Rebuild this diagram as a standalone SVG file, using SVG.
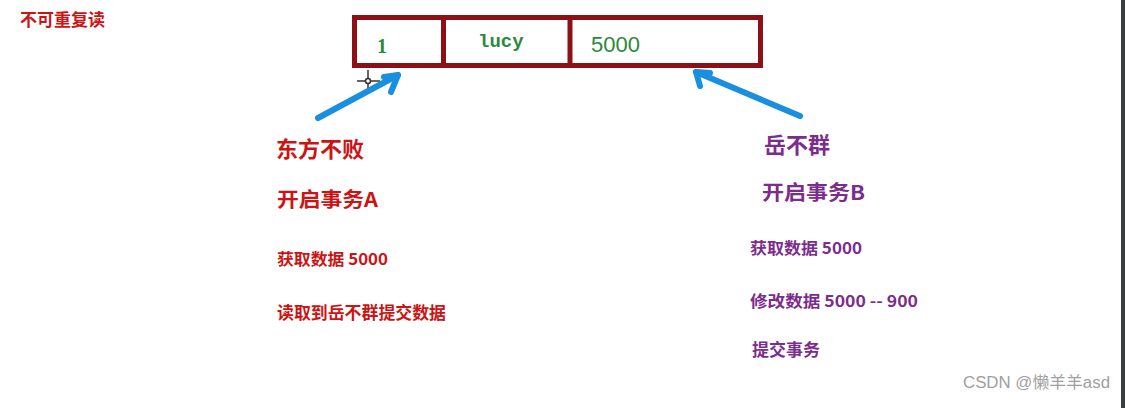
<svg xmlns="http://www.w3.org/2000/svg" width="1125" height="408" viewBox="0 0 1125 408">
<style>
.red{fill:#cc1414;font-family:"Noto Sans CJK SC","Liberation Sans",sans-serif;font-weight:bold}
.pur{fill:#7b2c8c;font-family:"Noto Sans CJK SC","Liberation Sans",sans-serif;font-weight:bold}
.grn{fill:#2a8a3c}
.arrow{fill:none;stroke:#1a8fe0;stroke-width:6;stroke-linecap:round;stroke-linejoin:round}
</style>
<rect width="1125" height="408" fill="#ffffff"/>
<rect x="1121" y="0" width="4" height="408" fill="#3a3d40"/>
<text x="20" y="26" class="red" font-size="17">不可重复读</text>
<g id="table">
<rect x="354.5" y="17.5" width="406" height="48" fill="#ffffff" stroke="#8c1016" stroke-width="5"/>
<line x1="443.5" y1="17" x2="443.5" y2="66" stroke="#8c1016" stroke-width="5"/>
<line x1="570" y1="17" x2="570" y2="66" stroke="#8c1016" stroke-width="5"/>
<text x="377" y="53" class="grn" font-family="Liberation Serif,serif" font-weight="bold" font-size="20">1</text>
<text x="478" y="47" class="grn" font-family="Liberation Mono,monospace" font-weight="bold" font-size="19">lucy</text>
<text x="591" y="52" class="grn" font-family="Liberation Sans,sans-serif" font-size="22">5000</text>
</g>
<g id="cursor" stroke="#333" stroke-width="1.5" fill="none">
<line x1="368" y1="70" x2="368" y2="92"/>
<line x1="357" y1="81" x2="380" y2="81"/>
<circle cx="368" cy="81" r="2.5" fill="#fff"/>
</g>
<g id="connectors">
<polyline class="arrow" points="318,118 398,75"/>
<polyline class="arrow" points="384,77 398,75 391,92"/>
<polyline class="arrow" points="800,116 696,72"/>
<polyline class="arrow" points="700,86 696,72 710,73"/>
</g>
<g id="nodeA">
<text x="276" y="157" class="red" font-size="22">东方不败</text>
<text x="277" y="207" class="red" font-size="20" textLength="101" lengthAdjust="spacingAndGlyphs">开启事务A</text>
<text x="277" y="265" class="red" font-size="16" textLength="111" lengthAdjust="spacingAndGlyphs">获取数据 5000</text>
<text x="277" y="319" class="red" font-size="17" textLength="169" lengthAdjust="spacingAndGlyphs">读取到岳不群提交数据</text>
</g>
<g id="nodeB">
<text x="764" y="153" class="pur" font-size="22">岳不群</text>
<text x="762" y="200" class="pur" font-size="20" textLength="103" lengthAdjust="spacingAndGlyphs">开启事务B</text>
<text x="750" y="254" class="pur" font-size="16" textLength="112" lengthAdjust="spacingAndGlyphs">获取数据 5000</text>
<text x="750" y="307" class="pur" font-size="16" textLength="168" lengthAdjust="spacingAndGlyphs">修改数据 5000 -- 900</text>
<text x="752" y="356" class="pur" font-size="17" textLength="68" lengthAdjust="spacingAndGlyphs">提交事务</text>
</g>
<text x="963" y="388" fill="#a0a0a0" font-family="Liberation Sans,'Noto Sans CJK SC',sans-serif" font-size="16" textLength="147" lengthAdjust="spacingAndGlyphs">CSDN @懒羊羊asd</text>
</svg>
